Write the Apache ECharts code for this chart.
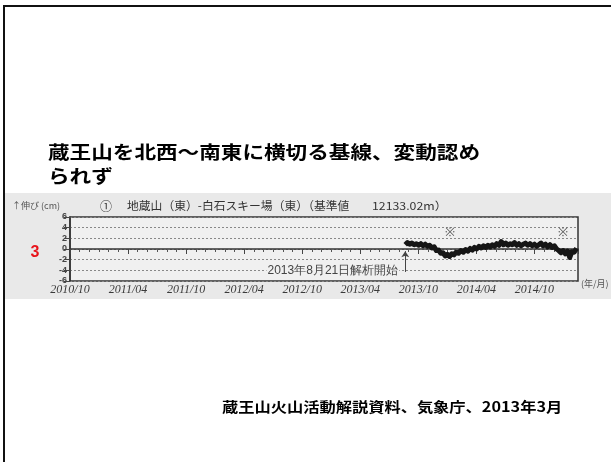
<!DOCTYPE html>
<html>
<head>
<meta charset="utf-8">
<script src="https://cdn.jsdelivr.net/npm/echarts@6/dist/echarts.min.js"></script>
<style>
  html, body { margin: 0; padding: 0; background: #fff; }
  #main { width: 611px; height: 462px; }
</style>
</head>
<body>
<div id="main"></div>
<script>
// Tick labels of the x axis, one every six months from 2010/10
const tickLabels = ['2010/10', '2011/04', '2011/10', '2012/04', '2012/10',
                    '2013/04', '2013/10', '2014/04', '2014/10'];

// Baseline length change (cm), weekly readings from the start of analysis
const obsDates = [
  '2013-08-21', '2013-08-28', '2013-09-04', '2013-09-11', '2013-09-18', '2013-09-25',
  '2013-10-02', '2013-10-09', '2013-10-16', '2013-10-23', '2013-10-30', '2013-11-06',
  '2013-11-13', '2013-11-20', '2013-11-27', '2013-12-04', '2013-12-11', '2013-12-18',
  '2013-12-25', '2014-01-01', '2014-01-08', '2014-01-15', '2014-01-22', '2014-01-29',
  '2014-02-05', '2014-02-12', '2014-02-19', '2014-02-26', '2014-03-05', '2014-03-12',
  '2014-03-19', '2014-03-26', '2014-04-02', '2014-04-09', '2014-04-16', '2014-04-23',
  '2014-04-30', '2014-05-07', '2014-05-14', '2014-05-21', '2014-05-28', '2014-06-04',
  '2014-06-11', '2014-06-18', '2014-06-25', '2014-07-02', '2014-07-09', '2014-07-16',
  '2014-07-23', '2014-07-30', '2014-08-06', '2014-08-13', '2014-08-20', '2014-08-27',
  '2014-09-03', '2014-09-10', '2014-09-17', '2014-09-24', '2014-10-01', '2014-10-08',
  '2014-10-15', '2014-10-22', '2014-10-29', '2014-11-05', '2014-11-12', '2014-11-19',
  '2014-11-26', '2014-12-03', '2014-12-10', '2014-12-17', '2014-12-24', '2014-12-31',
  '2015-01-07', '2015-01-14', '2015-01-21', '2015-01-28', '2015-02-04', '2015-02-11'
];
const obsValues = [
  0.8, 1.2, 0.9, 1.1, 0.8, 1.0,
  0.7, 1.0, 0.6, 0.9, 0.5, 0.7,
  0.2, 0.4, -0.3, -0.2, -0.8, -0.7,
  -1.3, -1.0, -1.4, -0.9, -1.1, -0.6,
  -0.8, -0.3, -0.6, -0.1, -0.4, 0.1,
  -0.2, 0.3, 0.0, 0.5, 0.2, 0.6,
  0.3, 0.7, 0.4, 0.8, 0.5, 1.0,
  0.7, 1.4, 0.8, 1.1, 0.7, 1.0,
  0.8, 1.2, 0.7, 1.0, 0.6, 0.9,
  1.1, 0.7, 1.0, 0.6, 0.9, 0.5,
  0.8, 1.1, 0.6, 0.9, 0.4, 0.8,
  0.3, 0.6, 0.0, -0.3, -0.7, -0.3,
  -0.9, -0.4, -1.6, -0.5, -0.6, 0.1
];

// Annotation marks (※) and the analysis start caption
const noteDates = ['2014-01-10', '2015-01-01'];
const noteLevel = 3;
const startCaption = '2013年8月21日解析開始';
const captionLevel = -4;

// Axis range: months counted from 2010/10
const axisMin = 0;
const axisMax = 52.5;
const axisStep = 6;

function monthPos(s) {
  const [y, m, d] = s.split('-').map(Number);
  const dim = new Date(y, m, 0).getDate();
  return (y - 2010) * 12 + (m - 10) + (d - 1) / dim;
}

const lineData = obsDates.map((d, i) => [monthPos(d), obsValues[i]]);
const startX = monthPos(obsDates[0]);

const textBase = { align: 'left', verticalAlign: 'middle',
                   textAlign: 'left', textVerticalAlign: 'middle' };

const chart = echarts.init(document.getElementById('main'), null, { renderer: 'canvas' });

chart.setOption({
  animation: false,
  backgroundColor: '#ffffff',
  graphic: [
    // scanned-figure backdrop
    { type: 'rect', z: -5, silent: true,
      shape: { x: 5, y: 193, width: 610, height: 106 },
      style: { fill: '#e9e9e9' } },
    // slide frame
    { type: 'rect', z: 50, silent: true,
      shape: { x: 4, y: 6, width: 800, height: 800 },
      style: { fill: 'none', stroke: '#111', lineWidth: 2 } },
    // slide heading
    { type: 'text', z: 50, x: 48, y: 152, scaleX: 1.2,
      style: Object.assign({ text: '蔵王山を北西～南東に横切る基線、変動認め',
               font: 'bold 18px "Noto Sans CJK JP"', fill: '#000' }, textBase) },
    { type: 'text', z: 50, x: 48, y: 176, scaleX: 1.2,
      style: Object.assign({ text: 'られず',
               font: 'bold 18px "Noto Sans CJK JP"', fill: '#000' }, textBase) },
    // panel number
    { type: 'text', z: 50, x: 35, y: 253,
      style: { text: '3', font: 'bold 16px "Liberation Sans"', fill: '#e8141b',
               align: 'center', verticalAlign: 'middle',
               textAlign: 'center', textVerticalAlign: 'middle' } },
    // figure heading and units
    { type: 'text', z: 50, x: 12, y: 206,
      style: Object.assign({ text: '↑伸び (cm)', font: '9px "Noto Sans CJK JP"',
               fill: '#555' }, textBase) },
    { type: 'text', z: 50, x: 100, y: 206,
      style: Object.assign({ text: '①', font: '12px "Noto Sans CJK JP"',
               fill: '#333' }, textBase) },
    { type: 'text', z: 50, x: 127, y: 206,
      style: Object.assign({ text: '地蔵山（東）-白石スキー場（東）（基準値',
               font: '11.8px "Noto Sans CJK JP"', fill: '#333' }, textBase) },
    { type: 'text', z: 50, x: 372, y: 206, scaleX: 1.12,
      style: Object.assign({ text: '12133.02m）',
               font: '11px "Noto Sans CJK JP"', fill: '#333' }, textBase) },
    { type: 'text', z: 50, x: 581, y: 284,
      style: Object.assign({ text: '(年/月)', font: '9px "Noto Sans CJK JP"',
               fill: '#555' }, textBase) },
    // source line
    { type: 'text', z: 50, x: 222, y: 407, scaleX: 1.16,
      style: Object.assign({ text: '蔵王山火山活動解説資料、気象庁、2013年3月',
               font: 'bold 14px "Noto Sans CJK JP"', fill: '#000' }, textBase) }
  ],
  grid: {
    left: 70, right: 33, top: 217, bottom: 181,
    show: true, backgroundColor: '#f0f0f0',
    borderColor: '#333', borderWidth: 1.5
  },
  xAxis: {
    type: 'value', min: axisMin, max: axisMax, interval: axisStep,
    axisLine: { show: true, lineStyle: { color: '#333', width: 1.5 } },
    axisTick: { show: true, length: 5, lineStyle: { color: '#444' } },
    minorTick: { show: true, splitNumber: 6, length: 3, lineStyle: { color: '#555' } },
    splitLine: { show: false },
    axisLabel: {
      margin: 3, fontSize: 12, fontStyle: 'italic', fontFamily: 'Liberation Serif',
      color: '#3a3a3a', showMaxLabel: false,
      formatter: v => {
        const k = Math.round(v / axisStep);
        return Math.abs(k * axisStep - v) < 1e-6 && tickLabels[k] ? tickLabels[k] : '';
      }
    }
  },
  yAxis: {
    type: 'value', min: -6, max: 6, interval: 2,
    axisLine: { show: true, lineStyle: { color: '#333', width: 1.5 } },
    axisTick: { show: true, length: 6, lineStyle: { color: '#444' } },
    splitLine: { show: true, lineStyle: { color: '#888', type: [2, 2], width: 1 } },
    axisLabel: { margin: 3, fontSize: 9, fontWeight: 'bold', color: '#444',
                 fontFamily: 'Liberation Sans' }
  },
  series: [{
    type: 'line',
    data: lineData,
    symbol: 'none',
    lineStyle: { color: '#151515', width: 5, join: 'round' },
    markPoint: {
      silent: true,
      symbol: 'circle', symbolSize: 0,
      data: noteDates.map(d => ({
        coord: [monthPos(d), noteLevel],
        label: { show: true, formatter: '※', position: 'inside',
                 color: '#555', fontSize: 12 }
      })).concat([{
        coord: [startX, captionLevel],
        label: { show: true, formatter: startCaption, position: 'left', distance: 6,
                 color: '#444', fontSize: 12, backgroundColor: '#f0f0f0',
                 padding: [0, 1] }
      }])
    },
    markLine: {
      silent: true,
      symbol: ['none', 'arrow'], symbolSize: 6,
      lineStyle: { color: '#444', width: 1, type: 'solid' },
      label: { show: false },
      data: [[{ coord: [startX, captionLevel - 0.3] }, { coord: [startX, -0.4] }]]
    }
  }]
});
</script>
</body>
</html>
